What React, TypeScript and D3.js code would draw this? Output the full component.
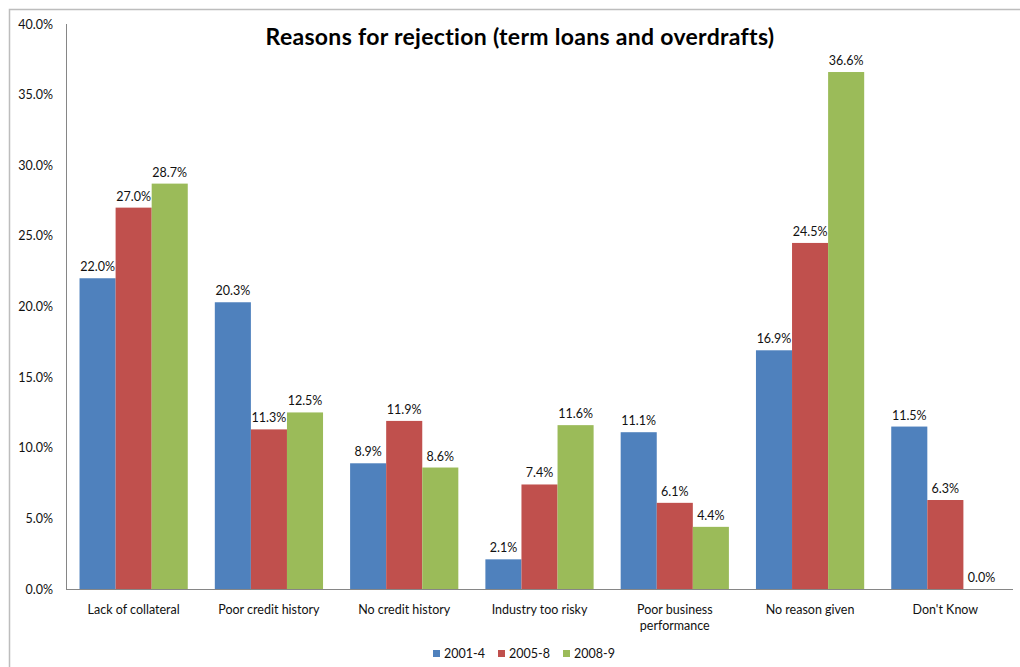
import React from "react";
import * as d3 from "d3";

const categories = [
  "Lack of collateral",
  "Poor credit history",
  "No credit history",
  "Industry too risky",
  "Poor business performance",
  "No reason given",
  "Don't Know",
];
const seriesNames = ["2001-4", "2005-8", "2008-9"];
const s2001 = [22.0, 20.3, 8.9, 2.1, 11.1, 16.9, 11.5];
const s2005 = [27.0, 11.3, 11.9, 7.4, 6.1, 24.5, 6.3];
const s2008 = [28.7, 12.5, 8.6, 11.6, 4.4, 36.6, 0.0];
const yTicks = [0, 5, 10, 15, 20, 25, 30, 35, 40];
const colors = ["#4F81BD", "#C0504D", "#9BBB59"];
const title = "Reasons for rejection (term loans and overdrafts)";

const W = 1020;
const H = 667;
const FONT = "Lato, 'Open Sans', 'DejaVu Sans', sans-serif";

function wrapLabel(s: string): string[] {
  if (s === "Poor business performance") return ["Poor business", "performance"];
  return [s];
}

export default function App() {
  const left = 66;
  const right = 1013;
  const top = 24;
  const bottom = 589;
  const series = [s2001, s2005, s2008];

  const x = d3
    .scaleBand<string>()
    .domain(categories)
    .range([left, right])
    .paddingInner(0.2)
    .paddingOuter(0.1);
  const xs = d3
    .scaleBand<string>()
    .domain(seriesNames)
    .range([0, x.bandwidth()])
    .padding(0);
  const y = d3.scaleLinear().domain([0, 40]).range([bottom, top]);
  const fmt = (v: number) => d3.format(".1f")(v) + "%";

  const legendX = [433, 498, 563];

  return (
    <svg
      width={W}
      height={H}
      style={{ position: "absolute", left: 0, top: 0, background: "#fff" }}
      fontFamily={FONT}
    >
      <rect x={0} y={0} width={W} height={H} fill="#fff" />
      <rect x={9.5} y={9.5} width={W + 20} height={H + 20} fill="none" stroke="#BDBDBD" strokeWidth={1.5} />
      <text x={520} y={45} textAnchor="middle" fontSize={23} letterSpacing={0.3} fontWeight="bold" fill="#000">
        {title}
      </text>
      {/* y axis labels */}
      {yTicks.map((t) => (
        <text key={t} x={53} y={y(t) + 4.5} textAnchor="end" fontSize={12.5} fill="#111">
          {fmt(t)}
        </text>
      ))}
      {/* bars */}
      {categories.map((c, i) =>
        series.map((s, j) => {
          const bx = (x(c) ?? 0) + (xs(seriesNames[j]) ?? 0);
          const v = s[i];
          return (
            <g key={c + j}>
              <rect
                x={bx}
                y={y(v)}
                width={xs.bandwidth()}
                height={bottom - y(v)}
                fill={colors[j]}
              />
              <text
                x={bx + xs.bandwidth() / 2}
                y={y(v) - 7}
                textAnchor="middle"
                fontSize={12.5}
                fill="#111"
              >
                {fmt(v)}
              </text>
            </g>
          );
        })
      )}
      {/* axes */}
      <line x1={left + 0.5} x2={left + 0.5} y1={top} y2={bottom} stroke="#868686" strokeWidth={1} />
      <line x1={left} x2={right} y1={bottom + 0.5} y2={bottom + 0.5} stroke="#868686" strokeWidth={1} />
      {/* category labels */}
      {categories.map((c) => {
        const lines = wrapLabel(c);
        return (
          <text
            key={c}
            x={(x(c) ?? 0) + x.bandwidth() / 2}
            y={614}
            textAnchor="middle"
            fontSize={12.5}
            fill="#111"
          >
            {lines.map((l, k) => (
              <tspan key={k} x={(x(c) ?? 0) + x.bandwidth() / 2} dy={k === 0 ? 0 : 16}>
                {l}
              </tspan>
            ))}
          </text>
        );
      })}
      {/* legend */}
      {seriesNames.map((n, j) => (
        <g key={n}>
          <rect x={legendX[j]} y={650} width={7} height={7} fill={colors[j]} />
          <text x={legendX[j] + 11} y={658} fontSize={12.5} fill="#111">
            {n}
          </text>
        </g>
      ))}
    </svg>
  );
}
